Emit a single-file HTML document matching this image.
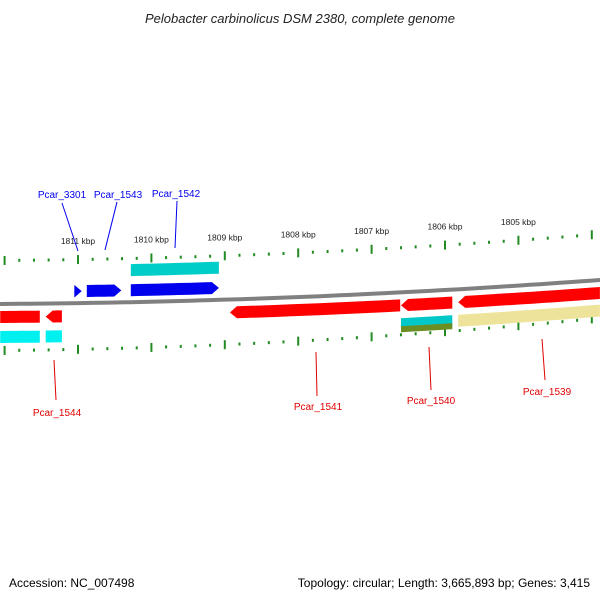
<!DOCTYPE html>
<html><head><meta charset="utf-8"><style>
body{margin:0;background:#fff}
svg{display:block;font-family:"Liberation Sans","DejaVu Sans",sans-serif}
</style></head><body>
<svg id="map" width="600" height="600" viewBox="0 0 600 600">
<text x="300" y="23" text-anchor="middle" font-size="13" font-style="italic" fill="#222">Pelobacter carbinolicus DSM 2380, complete genome</text>
<g id="g"></g>
<text x="9" y="587" font-size="12" fill="#000">Accession: NC_007498</text>
<text x="590" y="587" text-anchor="end" font-size="12" fill="#000">Topology: circular; Length: 3,665,893 bp; Genes: 3,415</text>
</svg>
<script>
const tickKbp=[1812,1811,1810,1809,1808,1807,1806,1805,1804];
const fwdNames=["Pcar_3301","Pcar_1543","Pcar_1542"];
const fwdStart=[1811.05,1810.88,1810.28];
const fwdEnd=[1810.95,1810.41,1809.08];
const revNames=["Pcar_1545","Pcar_1544","Pcar_1541","Pcar_1540","Pcar_1539"];
const revStart=[1811.52,1811.22,1806.61,1805.90,1803.89];
const revEnd=[1812.06,1811.44,1808.93,1806.60,1805.82];
const NS="http://www.w3.org/2000/svg";
const G=document.getElementById('g');
function X(k){return 78+(1811-k)*73.4;}
function dy(x){return -0.00667*x-5.56e-5*x*x;}
function Y(x,base,k){return base+k*dy(x);}
function mk(t,a){const e=document.createElementNS(NS,t);for(const n in a)e.setAttribute(n,a[n]);G.appendChild(e);return e;}
function band(x1,x2,base,k,h,fill,arrow){
  if(x1>x2){const t=x1;x1=x2;x2=t;}
  let top=[],bot=[];const n=12;
  let a=x1,b=x2;
  if(arrow===1)b=x2-7; if(arrow===-1)a=x1+7;
  for(let i=0;i<=n;i++){const x=a+(b-a)*i/n;top.push([x,Y(x,base,k)-h/2]);bot.push([x,Y(x,base,k)+h/2]);}
  let pts=top.slice();
  if(arrow===1)pts.push([x2,Y(x2,base,k)]);
  bot.reverse();pts=pts.concat(bot);
  if(arrow===-1)pts.push([x1,Y(x1,base,k)]);
  return mk('polygon',{points:pts.map(p=>p[0].toFixed(1)+','+p[1].toFixed(1)).join(' '),fill:fill});
}
let bp=[];for(let x=0;x<=600;x+=10)bp.push(x+','+(Y(x,304,1)).toFixed(1));
let bb=mk('polyline',{points:bp.join(' '),fill:'none',stroke:'#808080','stroke-width':4});


function ring(base,k,labels,nm){
  for(let i=0;i<tickKbp.length-1;i++){
    const k0=tickKbp[i],k1=tickKbp[i+1];
    const steps=5;
    for(let j=0;j<steps;j++){
      const kk=k0-(k0-k1)*j/steps;const x=X(kk);const y=Y(x,base,k);
      const major=Math.abs(kk-Math.round(kk))<0.01;
      const t=mk('rect',{x:x-1,y:major?y-4:y-1,width:2,height:major?9:3,fill:'#228b22'});
      
      
      if(major&&labels&&kk<1811.1){
        const l=mk('text',{x:x,y:y-15,'font-size':8.5,'text-anchor':'middle',fill:'#222'});
        l.textContent=kk+' kbp';
        
        
      }
    }
  }
  const x=X(tickKbp[tickKbp.length-1]);const t=mk('rect',{x:x-1,y:Y(x,base,k)-4,width:2,height:9,fill:'#228b22'});
  
  
}
ring(260,1.1,true,'outer-ring');
ring(350,1.35,false,'inner-ring');
for(let i=0;i<fwdNames.length;i++){
  const x1=X(fwdStart[i]),x2=X(fwdEnd[i]);
  const p=band(x1,x2,292,1,12,'#0000ee',1);
  
  
}
let c1=band(X(fwdStart[2]),X(fwdEnd[2]),272,1.05,12,'#00cdc8',0);


const lowCol=['#00f0f0','#00f0f0',null,'#00c8c8','#eee39a'];
for(let i=0;i<revNames.length;i++){
  const x1=Math.max(0,X(revEnd[i])),x2=Math.min(600,X(revStart[i]));
  const p=band(x1,x2,317,1,12,'#ff0000',i===0?0:-1);
  
  
  if(lowCol[i]){
    const q=band(x1,x2,337,1.1,12,lowCol[i],0);
    
    
    if(i===3){const o=band(x1,x2,342,1.1,6,'#6b8e23',0);
      
      }
  }
}
const lab=[["Pcar_3301",62,198,62,203,78,251,'#0000ee'],["Pcar_1543",118,198,117,202,105,250,'#0000ee'],["Pcar_1542",176,197,177,201,175,248,'#0000ee'],
["Pcar_1544",57,416,54,360,56,400,'#e00000'],["Pcar_1541",318,410,316,352,317,396,'#e00000'],["Pcar_1540",431,404,429,347,431,390,'#e00000'],["Pcar_1539",547,395,542,339,545,380,'#e00000']];
lab.forEach(l=>{
  const ln=mk('line',{x1:l[3],y1:l[4],x2:l[5],y2:l[6],stroke:l[7],'stroke-width':1});
  
  
  const t=mk('text',{x:l[1],y:l[2],'font-size':10,'text-anchor':'middle',fill:l[7]});
  t.textContent=l[0];
  
  
});
</script>
</body></html>
